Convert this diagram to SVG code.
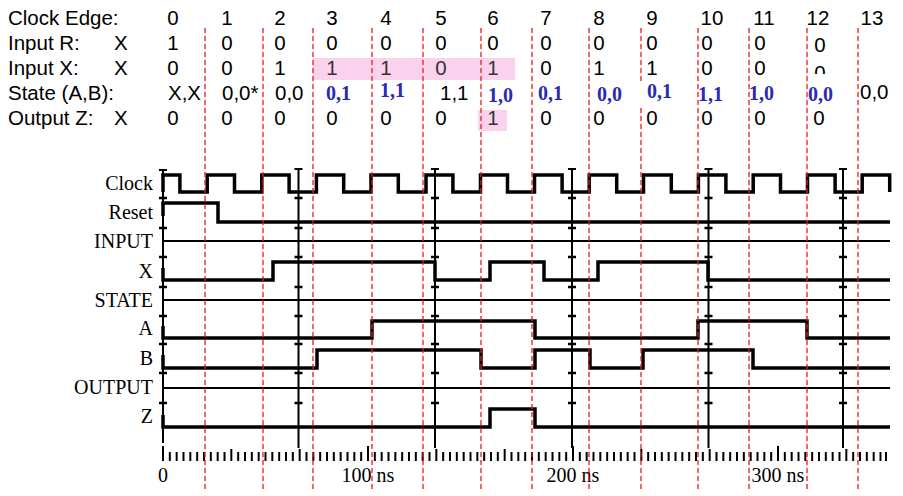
<svg xmlns="http://www.w3.org/2000/svg" width="903" height="496" viewBox="0 0 903 496">
<style>
.t{font-family:"Liberation Sans",Arial,sans-serif;font-size:20.5px;fill:#000}
.m{text-anchor:middle}
.g{fill:#333}
.b{font-family:"Liberation Serif","Times New Roman",serif;font-size:20px;font-weight:bold;fill:#2a2ab4}
.lab{font-family:"Liberation Serif","Times New Roman",serif;font-size:20px;fill:#000;text-anchor:end}
.ax{font-family:"Liberation Serif","Times New Roman",serif;font-size:20px;fill:#000;text-anchor:middle}
.w{fill:none;stroke:#000;stroke-width:3.5;stroke-linejoin:miter}
.thin{fill:none;stroke:#000;stroke-width:2}
.cur{fill:none;stroke:#000;stroke-width:2}
.tk{fill:none;stroke:#000;stroke-width:2.5}
.red{fill:none;stroke:#f01818;stroke-width:1.3;stroke-dasharray:5 3}
.pink{fill:#fbd2ee}
</style>
<defs>
<clipPath id="clip0"><rect x="800" y="55" width="40" height="19"/></clipPath>
</defs>
<rect width="903" height="496" fill="#fff"/>

<g id="highlights">
<rect class="pink" x="313" y="58" width="202" height="22"/>
<rect class="pink" x="478" y="110" width="29" height="21"/>
</g>

<g id="waveforms">
<g id="sig-clock">
<text class="lab" x="153" y="190">Clock</text>
<path class="w" d="M163,192 V175 H179.9 V192 H207.2 V175 H234.5 V192 H261.8 V175 H289.1 V192 H316.4 V175 H343.7 V192 H371 V175 H398.3 V192 H426 V175 H452.9 V192 H480.5 V175 H507.5 V192 H534.5 V175 H562.1 V192 H589.2 V175 H616.7 V192 H643.5 V175 H671.3 V192 H698.4 V175 H725.9 V192 H753.2 V175 H780.5 V192 H807.5 V175 H835.1 V192 H862.2 V175 H889.7 V192"/>
</g>
<g id="sig-reset">
<text class="lab" x="153" y="219">Reset</text>
<path class="w" d="M163,216 V203 H218 V222 H890"/>
</g>
<g id="sig-input">
<text class="lab" x="153" y="248">INPUT</text>
<path class="thin" d="M163,241 H890"/>
</g>
<g id="sig-x">
<text class="lab" x="153" y="278">X</text>
<path class="w" d="M163,268 V280 H273 V262 H435 V280 H490 V262 H544 V280 H598 V262 H708 V280 H890"/>
</g>
<g id="sig-state">
<text class="lab" x="153" y="307">STATE</text>
<path class="thin" d="M163,300 H890"/>
</g>
<g id="sig-a">
<text class="lab" x="153" y="335">A</text>
<path class="w" d="M163,326 V338 H372 V321 H535 V338 H698 V321 H807 V338 H890"/>
</g>
<g id="sig-b">
<text class="lab" x="153" y="365">B</text>
<path class="w" d="M163,355 V368 H317 V350 H481 V368 H535 V350 H590 V368 H643 V350 H753 V368 H890"/>
</g>
<g id="sig-output">
<text class="lab" x="153" y="394">OUTPUT</text>
<path class="thin" d="M163,388 H890"/>
</g>
<g id="sig-z">
<text class="lab" x="153" y="423">Z</text>
<path class="w" d="M163,415 V427 H490 V409 H535 V427 H890"/>
</g>
</g>

<g id="cursors">
<path class="cur" d="M163,170 V443 M159,170 H167"/>
<path class="tk" d="M159,198 H167 M159,228 H167 M159,257 H167 M159,287 H167 M159,316 H167 M159,344 H167 M159,373 H167 M159,403 H167"/>
<path class="cur" d="M298.5,169 V448 M294.5,169 H302.5"/>
<path class="tk" d="M294.5,198 H302.5 M294.5,228 H302.5 M294.5,257 H302.5 M294.5,287 H302.5 M294.5,316 H302.5 M294.5,344 H302.5 M294.5,373 H302.5 M294.5,403 H302.5"/>
<path class="cur" d="M435,169 V448 M431,169 H439"/>
<path class="tk" d="M431,198 H439 M431,228 H439 M431,257 H439 M431,287 H439 M431,316 H439 M431,344 H439 M431,373 H439 M431,403 H439"/>
<path class="cur" d="M572,169 V448 M568,169 H576"/>
<path class="tk" d="M568,198 H576 M568,228 H576 M568,257 H576 M568,287 H576 M568,316 H576 M568,344 H576 M568,373 H576 M568,403 H576"/>
<path class="cur" d="M708.5,169 V448 M704.5,169 H712.5"/>
<path class="tk" d="M704.5,198 H712.5 M704.5,228 H712.5 M704.5,257 H712.5 M704.5,287 H712.5 M704.5,316 H712.5 M704.5,344 H712.5 M704.5,373 H712.5 M704.5,403 H712.5"/>
<path class="cur" d="M843,169 V448 M839,169 H847"/>
<path class="tk" d="M839,198 H847 M839,228 H847 M839,257 H847 M839,287 H847 M839,316 H847 M839,344 H847 M839,373 H847 M839,403 H847"/>
</g>

<g id="time-axis">
<path fill="none" stroke="#000" stroke-width="2" d="M169.83,452V461 M176.67,452V461 M183.5,452V461 M190.33,452V461 M197.17,452V461 M204,452V461 M210.83,452V461 M217.67,452V461 M224.5,452V461 M238.17,452V461 M245,452V461 M251.83,452V461 M258.67,452V461 M265.5,452V461 M272.33,452V461 M279.17,452V461 M286,452V461 M292.83,452V461 M306.5,452V461 M313.33,452V461 M320.17,452V461 M327,452V461 M333.83,452V461 M340.67,452V461 M347.5,452V461 M354.33,452V461 M361.17,452V461 M374.83,452V461 M381.67,452V461 M388.5,452V461 M395.33,452V461 M402.17,452V461 M409,452V461 M415.83,452V461 M422.67,452V461 M429.5,452V461 M443.17,452V461 M450,452V461 M456.83,452V461 M463.67,452V461 M470.5,452V461 M477.33,452V461 M484.17,452V461 M491,452V461 M497.83,452V461 M511.5,452V461 M518.33,452V461 M525.17,452V461 M532,452V461 M538.83,452V461 M545.67,452V461 M552.5,452V461 M559.33,452V461 M566.17,452V461 M579.83,452V461 M586.67,452V461 M593.5,452V461 M600.33,452V461 M607.17,452V461 M614,452V461 M620.83,452V461 M627.67,452V461 M634.5,452V461 M648.17,452V461 M655,452V461 M661.83,452V461 M668.67,452V461 M675.5,452V461 M682.33,452V461 M689.17,452V461 M696,452V461 M702.83,452V461 M716.5,452V461 M723.33,452V461 M730.17,452V461 M737,452V461 M743.83,452V461 M750.67,452V461 M757.5,452V461 M764.33,452V461 M771.17,452V461 M784.83,452V461 M791.67,452V461 M798.5,452V461 M805.33,452V461 M812.17,452V461 M819,452V461 M825.83,452V461 M832.67,452V461 M839.5,452V461 M853.17,452V461 M860,452V461 M866.83,452V461 M873.67,452V461 M880.5,452V461 M886,452V461"/>
<path fill="none" stroke="#000" stroke-width="2" d="M231.33,449V461 M299.67,449V461 M436.33,449V461 M504.67,449V461 M641.33,449V461 M709.67,449V461 M846.33,449V461"/>
<path fill="none" stroke="#000" stroke-width="2" d="M163,446V461 M368,446V461 M573,446V461 M778,446V461"/>
<text class="ax" x="163" y="482">0</text>
<text class="ax" x="368" y="482">100 ns</text>
<text class="ax" x="573" y="482">200 ns</text>
<text class="ax" x="778" y="482">300 ns</text>
</g>

<g id="edge-lines">
<path class="red" d="M205,28 V490 M263,28 V490 M313,28 V490 M372,28 V490 M423,28 V490 M481,28 V490 M532,28 V490 M589,28 V490 M641,28 V490 M698,28 V490 M749,28 V490 M807,28 V490 M858,28 V490"/>
</g>

<g id="table">
<rect x="632" y="82" width="58" height="25" fill="#fff"/>
<text class="t" x="8" y="25">Clock Edge:</text>
<g class="t m">
<text class="t m" x="173" y="25">0</text>
<text class="t m" x="227" y="25">1</text>
<text class="t m" x="280" y="25">2</text>
<text class="t m" x="332" y="25">3</text>
<text class="t m" x="386" y="25">4</text>
<text class="t m" x="441" y="25">5</text>
<text class="t m" x="493" y="25">6</text>
<text class="t m" x="546" y="25">7</text>
<text class="t m" x="599" y="25">8</text>
<text class="t m" x="652" y="25">9</text>
<text class="t m" x="712" y="25">10</text>
<text class="t m" x="764" y="25">11</text>
<text class="t m" x="818" y="25">12</text>
<text class="t m" x="872" y="25">13</text>
</g>

<text class="t" x="8" y="50">Input R:</text>
<text class="t" x="114" y="50">X</text>
<text class="t m" x="173" y="50">1</text>
<text class="t m" x="227" y="50">0</text>
<text class="t m" x="280" y="50">0</text>
<text class="t m" x="332" y="50">0</text>
<text class="t m" x="386" y="50">0</text>
<text class="t m" x="441" y="50">0</text>
<text class="t m" x="493" y="50">0</text>
<text class="t m" x="546" y="50">0</text>
<text class="t m" x="599" y="50">0</text>
<text class="t m" x="652" y="50">0</text>
<text class="t m" x="707" y="50">0</text>
<text class="t m" x="760" y="50">0</text>
<text class="t m" x="820" y="52">0</text>

<text class="t" x="8" y="75">Input X:</text>
<text class="t" x="114" y="75">X</text>
<text class="t m" x="173" y="75">0</text>
<text class="t m" x="227" y="75">0</text>
<text class="t m" x="280" y="75">1</text>
<text class="t m g" x="332" y="75">1</text>
<text class="t m g" x="386" y="75">1</text>
<text class="t m g" x="441" y="75">0</text>
<text class="t m g" x="493" y="75">1</text>
<text class="t m" x="546" y="75">0</text>
<text class="t m" x="599" y="75">1</text>
<text class="t m" x="652" y="75">1</text>
<text class="t m" x="707" y="75">0</text>
<text class="t m" x="760" y="75">0</text>
<text class="t m" x="820" y="80" clip-path="url(#clip0)">0</text>

<text class="t" x="8" y="100">State (A,B):</text>
<text class="t" x="168" y="100">X,X</text>
<text class="t" x="222" y="100">0,0*</text>
<text class="t" x="275" y="100">0,0</text>
<text class="b" x="326" y="100">0,1</text>
<text class="b" x="380" y="97">1,1</text>
<text class="t" x="440" y="100">1,1</text>
<text class="b" x="488" y="101.5">1,0</text>
<text class="b" x="538" y="100">0,1</text>
<text class="b" x="597" y="101">0,0</text>
<text class="b" x="647" y="98">0,1</text>
<text class="b" x="698" y="100.5">1,1</text>
<text class="b" x="749" y="100">1,0</text>
<text class="b" x="808" y="100.5">0,0</text>
<text class="t" x="860" y="99">0,0</text>

<text class="t" x="8" y="125">Output Z:</text>
<text class="t" x="114" y="125">X</text>
<text class="t m" x="173" y="125">0</text>
<text class="t m" x="227" y="125">0</text>
<text class="t m" x="280" y="125">0</text>
<text class="t m" x="332" y="125">0</text>
<text class="t m" x="386" y="125">0</text>
<text class="t m" x="441" y="125">0</text>
<text class="t m g" x="493" y="125">1</text>
<text class="t m" x="546" y="125">0</text>
<text class="t m" x="599" y="125">0</text>
<text class="t m" x="652" y="125">0</text>
<text class="t m" x="707" y="125">0</text>
<text class="t m" x="760" y="125">0</text>
<text class="t m" x="819" y="125">0</text>
</g>
</svg>
